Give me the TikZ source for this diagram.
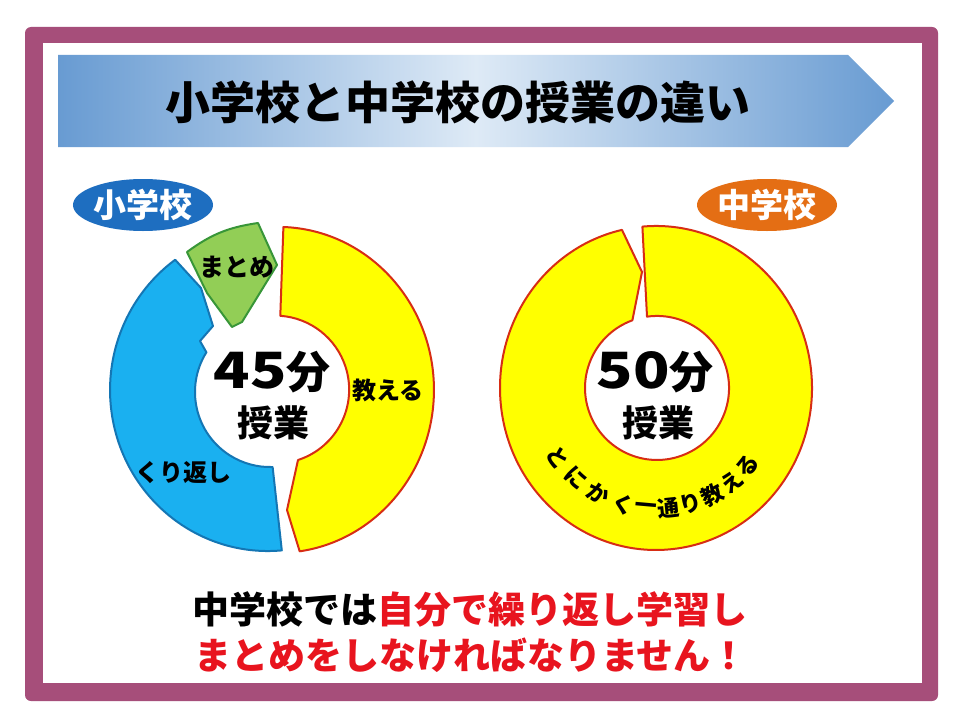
\documentclass[tikz,border=0pt]{standalone}
\usepackage{fontspec}
\usepackage{graphicx}
\newfontfamily\jp{Noto Sans CJK JP}
\usetikzlibrary{calc,shapes.geometric}
\definecolor{framec}{RGB}{166,78,122}
\definecolor{bannerblue}{RGB}{104,155,210}
\definecolor{bannerlight}{RGB}{222,234,246}
\definecolor{sky}{RGB}{26,176,240}
\definecolor{skyedge}{RGB}{20,118,180}
\definecolor{leaf}{RGB}{146,206,86}
\definecolor{leafedge}{RGB}{56,150,56}
\definecolor{yel}{RGB}{255,255,0}
\definecolor{yeledge}{RGB}{215,45,20}
\definecolor{badgeblue}{RGB}{30,110,192}
\definecolor{badgeorange}{RGB}{228,110,20}
\definecolor{alert}{RGB}{232,20,30}
\tikzset{
  seg/.style={line width=2pt, line join=round},
  badge/.style={ellipse, minimum width=122pt, minimum height=52pt, inner sep=0pt, text=white},
  lbl/.style={font=\jp\bfseries, inner sep=0pt}
}
\begin{document}
\begin{tikzpicture}[x=1pt,y=-1pt]
\useasboundingbox (0,0) rectangle (960,717);
\fill[white] (0,0) rectangle (960,717);
% frame
\fill[framec, rounded corners=6pt] (25,27) rectangle (938,701);
\fill[white] (43,43) rectangle (922,683);
% banner
\shade[left color=bannerblue, right color=bannerblue, middle color=bannerlight]
  (58,55) -- (848,55) -- (894,101) -- (848,147) -- (58,147) -- cycle;
\node[lbl] (title) at (458,102) {\fontsize{45}{45}\selectfont 小学校と中学校の授業の違い};

% left donut
\filldraw[fill=yel, draw=yeledge, seg] (283.4,227) arc[start angle=-88, end angle=82, x radius=156, y radius=163]
  -- (287,510) -- (298,460) arc[start angle=72, end angle=-86, radius=74] -- cycle;
\filldraw[fill=sky, draw=skyedge, seg] (281.8,550.4) arc[start angle=85, end angle=234, x radius=158, y radius=161]
  -- (201,288) -- (213,326) -- (200,341) -- (206.4,352.3) arc[start angle=212, end angle=88, radius=75] -- cycle;
\filldraw[fill=leaf, draw=leafedge, seg] (187,252) to[bend left=14] (258,223) -- (277,265) -- (242,322) -- (232,327) -- (207,293) -- cycle;

\node[lbl] (matome) at (237,267) {\fontsize{25}{25}\selectfont まとめ};
\node[lbl] (oshieru) at (388,390) {\fontsize{24}{24}\selectfont 教える};
\node[lbl] (kuri) at (183,473) {\fontsize{24}{24}\selectfont くり返し};
\node[lbl] (l45) at (272,372) {\fontsize{50}{50}\selectfont\scalebox{1.2}[1]{45}\fontsize{44}{44}\selectfont 分};
\node[lbl] (ljugyo) at (273,423) {\fontsize{36}{36}\selectfont 授業};

% right donut
\filldraw[fill=yel, draw=yeledge, seg] (642.4,226.6) arc[start angle=-95, end angle=257.4, x radius=156, y radius=162]
  -- (642,272) -- (632.4,320.3) arc[start angle=250, end angle=-98, radius=72] -- cycle;
\node[lbl] (r50) at (655,372) {\fontsize{50}{50}\selectfont\scalebox{1.2}[1]{50}\fontsize{44}{44}\selectfont 分};
\node[lbl] (rjugyo) at (658,423) {\fontsize{36}{36}\selectfont 授業};
\foreach \ch/\ang in {と/145, に/132, か/119, く/106, 一/95, 通/84, り/73, 教/62, え/51, る/40}
  \node[lbl, rotate=90-\ang] (arc\ang) at ($(656,389)+(\ang:120)$) {\fontsize{22}{22}\selectfont\ch};

% badges
\node[badge, fill=badgeblue, lbl] (badgeL) at (143,205) {\fontsize{33}{33}\selectfont 小学校};
\node[badge, fill=badgeorange, lbl] (badgeR) at (767,205) {\fontsize{33}{33}\selectfont 中学校};

% message
\node[lbl] (msg1) at (470,609) {\fontsize{37}{37}\selectfont 中学校では\textcolor{alert}{自分で繰り返し学習し}};
\node[lbl] (msg2) at (471,655) {\fontsize{37}{37}\selectfont\color{alert}まとめをしなければなりません！};
\end{tikzpicture}
\end{document}
